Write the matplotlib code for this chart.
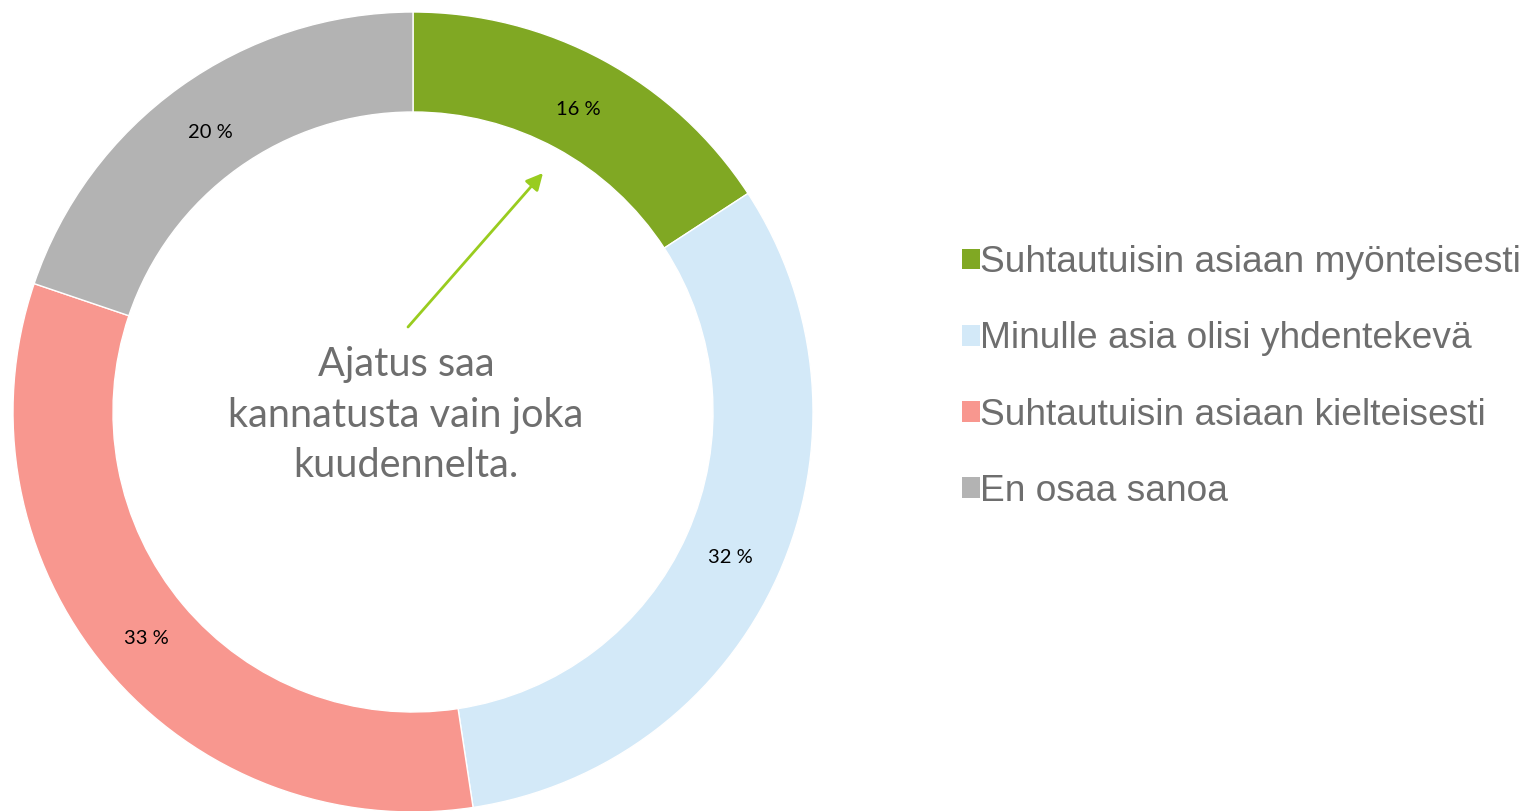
import matplotlib.pyplot as plt
from matplotlib.patches import Patch

# vastausten osuudet (luettu kuvasta)
categories = ["Suhtautuisin asiaan myönteisesti", "Minulle asia olisi yhdentekevä",
              "Suhtautuisin asiaan kielteisesti", "En osaa sanoa"]
values = [15.8, 31.8, 32.6, 19.8]
colors = ["#80a823", "#d3e9f8", "#f8978f", "#b3b3b3"]
note = "Ajatus saa\nkannatusta vain joka\nkuudennelta."

W, H = 1529, 811
fig = plt.figure(figsize=(W / 100, H / 100), dpi=100)
ax = fig.add_axes([13 / W, -1 / H, 800 / W, 800 / H])

wedges, texts, autotexts = ax.pie(
    values, colors=colors, startangle=90, counterclock=False, radius=1,
    autopct="%.0f %%", pctdistance=0.87,
    wedgeprops=dict(width=0.25, edgecolor="white", linewidth=1),
    textprops=dict(fontsize=14.5, family=["Lato", "DejaVu Sans"], color="black"))
# Excel-tyyliin arvot hieman alemmas
for t in autotexts:
    x, y = t.get_position()
    t.set_position((x, y - 0.008))
ax.set_xlim(-1, 1)
ax.set_ylim(-1, 1)
ax.set_aspect("equal")
ax.axis("off")

# keskiteksti ja nuoli
ax.text(-0.0175, -0.0075, note, ha="center", va="center", fontsize=28.6,
        family=["Lato", "DejaVu Sans"], color="#6e6e6e", linespacing=1.45)
ax.annotate("", xy=(0.325, 0.5975), xytext=(-0.0125, 0.2125),
            arrowprops=dict(arrowstyle="-|>", color="#99cc1f", lw=2,
                            mutation_scale=25, shrinkA=0, shrinkB=0))

handles = [Patch(facecolor=c, edgecolor="none") for c in colors]
fig.legend(handles, categories, loc="center left",
           bbox_to_anchor=(962 / W, 1 - 377 / H), frameon=False,
           prop=dict(family="Liberation Sans", size=26.7), labelcolor="#6e6e6e",
           handlelength=0.48, handleheight=0.48, handletextpad=0.0,
           labelspacing=1.11, borderpad=0, borderaxespad=0)

fig.savefig("out.png", dpi=100)
